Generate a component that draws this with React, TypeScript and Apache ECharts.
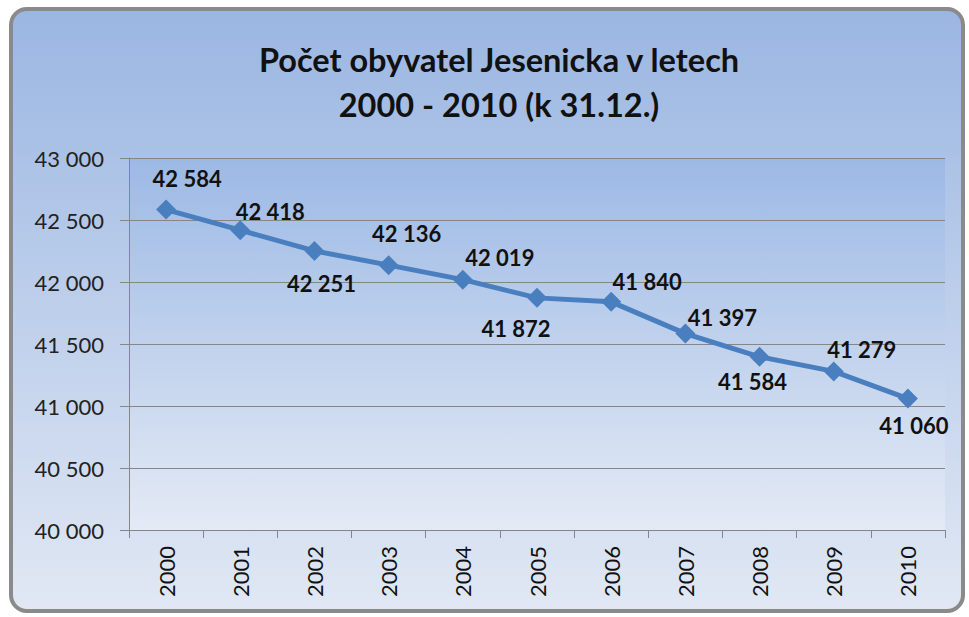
import React, { useEffect, useRef } from "react";
import * as echarts from "echarts";

const years = ["2000", "2001", "2002", "2003", "2004", "2005", "2006", "2007", "2008", "2009", "2010"];
const population = [42584, 42418, 42251, 42136, 42019, 41872, 41840, 41584, 41397, 41279, 41060];
// labels as printed in the reference (2007 / 2008 appear swapped there)
const pointLabels = ["42 584", "42 418", "42 251", "42 136", "42 019", "41 872", "41 840", "41 397", "41 584", "41 279", "41 060"];
const labelOffsets: [number, number][] = [
  [21, -31], [30, -19], [7, 33], [18, -32], [37, -22], [-21, 31], [36, -20], [37, -16], [-7, 25], [28, -22], [6, 27],
];
const titleLines = ["Počet obyvatel Jesenicka v letech", "2000 - 2010 (k 31.12.)"];
const yMin = 40000;
const yMax = 43000;
const yStep = 500;

const FONT = "Lato, 'Open Sans', sans-serif";

export default function App() {
  const ref = useRef<HTMLDivElement>(null);
  useEffect(() => {
    if (!ref.current) return;
    const chart = echarts.init(ref.current, undefined, { renderer: "svg" });
    chart.setOption({
      animation: false,
      graphic: [
        {
          type: "rect",
          z: -10,
          silent: true,
          shape: { x: 11, y: 9, width: 952, height: 602, r: 16 },
          style: {
            fill: new echarts.graphic.LinearGradient(0, 0, 0, 1, [
              { offset: 0, color: "#9ab6e2" },
              { offset: 1, color: "#e1e8f4" },
            ]),
            stroke: "#8a8a8a",
            lineWidth: 4,
          },
        },
        {
          type: "text",
          x: 499,
          y: 82,
          style: {
            text: titleLines.join("\n"),
            font: `bold 32.5px ${FONT}`,
            fill: "#111",
            align: "center",
            verticalAlign: "middle",
            lineHeight: 45,
          },
        },
      ],
      grid: {
        left: 129,
        right: 24,
        top: 158,
        bottom: 87,
        show: true,
        borderWidth: 0,
        backgroundColor: new echarts.graphic.LinearGradient(0, 0, 0, 1, [
          { offset: 0, color: "#9cb9e5" },
          { offset: 1, color: "#e4eaf5" },
        ]),
      },
      xAxis: {
        type: "category",
        data: years,
        boundaryGap: true,
        axisLine: { lineStyle: { color: "#868686", width: 1 } },
        axisTick: { show: true, length: 8, lineStyle: { color: "#868686" } },
        axisLabel: {
          rotate: 90,
          margin: 16,
          fontSize: 22,
          fontFamily: FONT,
          color: "#111",
        },
      },
      yAxis: {
        type: "value",
        min: yMin,
        max: yMax,
        interval: yStep,
        axisLine: { show: true, lineStyle: { color: "#868686", width: 1 } },
        axisTick: { show: true, length: 9, lineStyle: { color: "#868686" } },
        splitLine: { lineStyle: { color: "#868686", width: 1 } },
        axisLabel: {
          margin: 25,
          fontSize: 22,
          fontFamily: FONT,
          color: "#222",
          formatter: (v: number) => {
            const s = String(Math.round(v));
            return s.slice(0, s.length - 3) + " " + s.slice(-3);
          },
        },
      },
      series: [
        {
          type: "line",
          data: population.map((v, i) => ({
            value: v,
            label: {
              show: true,
              position: "inside",
              offset: labelOffsets[i],
              formatter: () => pointLabels[i],
            },
          })),
          symbol: "diamond",
          symbolSize: 20,
          itemStyle: { color: "#4a7fbf" },
          lineStyle: { color: "#4a7fbf", width: 5 },
          label: {
            show: true,
            fontSize: 22,
            fontWeight: "bold",
            fontFamily: FONT,
            color: "#111",
          },
        },
      ],
    });
    return () => chart.dispose();
  }, []);
  return (
    <div style={{ position: "absolute", left: 0, top: 0 }}>
      <div ref={ref} style={{ width: 969, height: 617 }} />
    </div>
  );
}
